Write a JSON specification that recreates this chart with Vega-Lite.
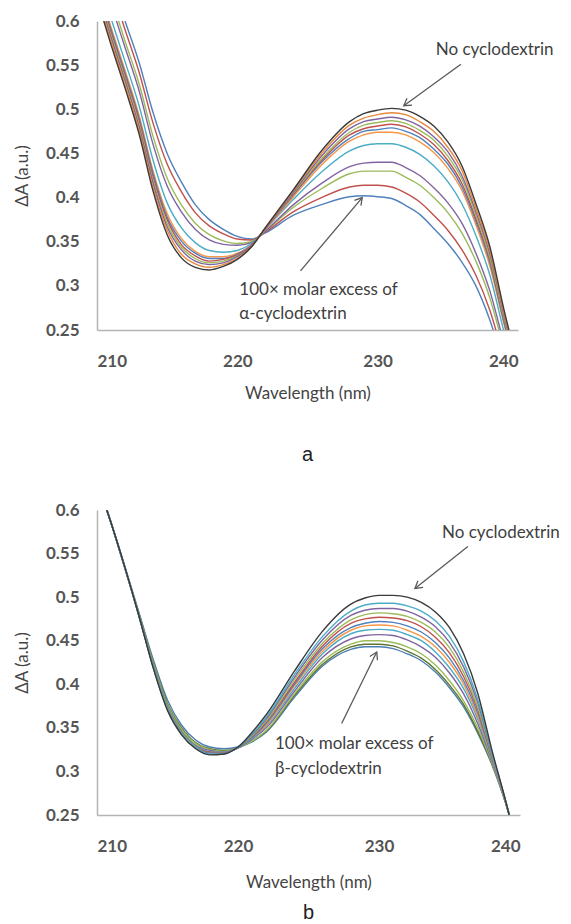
{
  "$schema": "https://vega.github.io/schema/vega-lite/v6.json",
  "padding": {"left": 13, "top": 12, "right": 5, "bottom": 0},
  "spacing": 36,
  "background": "white",
  "datasets": {
    "ta": [
      {"s":"s1","w":210,"v":0.700},{"s":"s1","w":211,"v":0.650},{"s":"s1","w":212,"v":0.600},{"s":"s1","w":213,"v":0.553},{"s":"s1","w":214,"v":0.496},{"s":"s1","w":215,"v":0.450},{"s":"s1","w":216,"v":0.418},{"s":"s1","w":217,"v":0.392},{"s":"s1","w":218,"v":0.375},{"s":"s1","w":219,"v":0.364},{"s":"s1","w":220,"v":0.356},{"s":"s1","w":221,"v":0.353},{"s":"s1","w":222,"v":0.360},{"s":"s1","w":224,"v":0.380},{"s":"s1","w":226,"v":0.392},{"s":"s1","w":228,"v":0.401},{"s":"s1","w":229,"v":0.402},{"s":"s1","w":230,"v":0.401},{"s":"s1","w":231,"v":0.399},{"s":"s1","w":232,"v":0.391},{"s":"s1","w":233,"v":0.381},{"s":"s1","w":234,"v":0.365},{"s":"s1","w":235,"v":0.348},{"s":"s1","w":236,"v":0.327},{"s":"s1","w":237,"v":0.300},{"s":"s1","w":238,"v":0.261},{"s":"s1","w":239,"v":0.210},{"s":"s1","w":240,"v":0.160},
      {"s":"s2","w":210,"v":0.690},{"s":"s2","w":211,"v":0.640},{"s":"s2","w":212,"v":0.590},{"s":"s2","w":213,"v":0.542},{"s":"s2","w":214,"v":0.484},{"s":"s2","w":215,"v":0.438},{"s":"s2","w":216,"v":0.407},{"s":"s2","w":217,"v":0.383},{"s":"s2","w":218,"v":0.368},{"s":"s2","w":219,"v":0.359},{"s":"s2","w":220,"v":0.353},{"s":"s2","w":221,"v":0.352},{"s":"s2","w":222,"v":0.361},{"s":"s2","w":224,"v":0.384},{"s":"s2","w":226,"v":0.400},{"s":"s2","w":228,"v":0.412},{"s":"s2","w":229,"v":0.414},{"s":"s2","w":230,"v":0.414},{"s":"s2","w":231,"v":0.412},{"s":"s2","w":232,"v":0.405},{"s":"s2","w":233,"v":0.395},{"s":"s2","w":234,"v":0.380},{"s":"s2","w":235,"v":0.363},{"s":"s2","w":236,"v":0.341},{"s":"s2","w":237,"v":0.312},{"s":"s2","w":238,"v":0.272},{"s":"s2","w":239,"v":0.218},{"s":"s2","w":240,"v":0.167},
      {"s":"s3","w":210,"v":0.678},{"s":"s3","w":211,"v":0.627},{"s":"s3","w":212,"v":0.577},{"s":"s3","w":213,"v":0.529},{"s":"s3","w":214,"v":0.469},{"s":"s3","w":215,"v":0.422},{"s":"s3","w":216,"v":0.392},{"s":"s3","w":217,"v":0.371},{"s":"s3","w":218,"v":0.358},{"s":"s3","w":219,"v":0.351},{"s":"s3","w":220,"v":0.348},{"s":"s3","w":221,"v":0.350},{"s":"s3","w":222,"v":0.362},{"s":"s3","w":224,"v":0.389},{"s":"s3","w":226,"v":0.410},{"s":"s3","w":228,"v":0.427},{"s":"s3","w":229,"v":0.430},{"s":"s3","w":230,"v":0.430},{"s":"s3","w":231,"v":0.430},{"s":"s3","w":232,"v":0.423},{"s":"s3","w":233,"v":0.414},{"s":"s3","w":234,"v":0.400},{"s":"s3","w":235,"v":0.383},{"s":"s3","w":236,"v":0.360},{"s":"s3","w":237,"v":0.328},{"s":"s3","w":238,"v":0.286},{"s":"s3","w":239,"v":0.229},{"s":"s3","w":240,"v":0.175},
      {"s":"s4","w":210,"v":0.670},{"s":"s4","w":211,"v":0.619},{"s":"s4","w":212,"v":0.570},{"s":"s4","w":213,"v":0.521},{"s":"s4","w":214,"v":0.460},{"s":"s4","w":215,"v":0.413},{"s":"s4","w":216,"v":0.384},{"s":"s4","w":217,"v":0.364},{"s":"s4","w":218,"v":0.352},{"s":"s4","w":219,"v":0.347},{"s":"s4","w":220,"v":0.346},{"s":"s4","w":221,"v":0.349},{"s":"s4","w":222,"v":0.362},{"s":"s4","w":224,"v":0.392},{"s":"s4","w":226,"v":0.416},{"s":"s4","w":228,"v":0.435},{"s":"s4","w":229,"v":0.439},{"s":"s4","w":230,"v":0.440},{"s":"s4","w":231,"v":0.440},{"s":"s4","w":232,"v":0.434},{"s":"s4","w":233,"v":0.425},{"s":"s4","w":234,"v":0.411},{"s":"s4","w":235,"v":0.394},{"s":"s4","w":236,"v":0.371},{"s":"s4","w":237,"v":0.337},{"s":"s4","w":238,"v":0.294},{"s":"s4","w":239,"v":0.235},{"s":"s4","w":240,"v":0.180},
      {"s":"s5","w":210,"v":0.654},{"s":"s5","w":211,"v":0.603},{"s":"s5","w":212,"v":0.554},{"s":"s5","w":213,"v":0.504},{"s":"s5","w":214,"v":0.442},{"s":"s5","w":215,"v":0.394},{"s":"s5","w":216,"v":0.366},{"s":"s5","w":217,"v":0.349},{"s":"s5","w":218,"v":0.340},{"s":"s5","w":219,"v":0.338},{"s":"s5","w":220,"v":0.340},{"s":"s5","w":221,"v":0.348},{"s":"s5","w":222,"v":0.364},{"s":"s5","w":224,"v":0.398},{"s":"s5","w":226,"v":0.429},{"s":"s5","w":228,"v":0.453},{"s":"s5","w":229,"v":0.459},{"s":"s5","w":230,"v":0.461},{"s":"s5","w":231,"v":0.461},{"s":"s5","w":232,"v":0.457},{"s":"s5","w":233,"v":0.449},{"s":"s5","w":234,"v":0.436},{"s":"s5","w":235,"v":0.418},{"s":"s5","w":236,"v":0.393},{"s":"s5","w":237,"v":0.357},{"s":"s5","w":238,"v":0.312},{"s":"s5","w":239,"v":0.248},{"s":"s5","w":240,"v":0.191},
      {"s":"s6","w":210,"v":0.645},{"s":"s6","w":211,"v":0.593},{"s":"s6","w":212,"v":0.544},{"s":"s6","w":213,"v":0.493},{"s":"s6","w":214,"v":0.430},{"s":"s6","w":215,"v":0.382},{"s":"s6","w":216,"v":0.354},{"s":"s6","w":217,"v":0.339},{"s":"s6","w":218,"v":0.333},{"s":"s6","w":219,"v":0.333},{"s":"s6","w":220,"v":0.337},{"s":"s6","w":221,"v":0.346},{"s":"s6","w":222,"v":0.364},{"s":"s6","w":224,"v":0.401},{"s":"s6","w":226,"v":0.437},{"s":"s6","w":228,"v":0.464},{"s":"s6","w":229,"v":0.471},{"s":"s6","w":230,"v":0.474},{"s":"s6","w":231,"v":0.474},{"s":"s6","w":232,"v":0.471},{"s":"s6","w":233,"v":0.463},{"s":"s6","w":234,"v":0.451},{"s":"s6","w":235,"v":0.433},{"s":"s6","w":236,"v":0.408},{"s":"s6","w":237,"v":0.369},{"s":"s6","w":238,"v":0.322},{"s":"s6","w":239,"v":0.257},{"s":"s6","w":240,"v":0.197},
      {"s":"s7","w":210,"v":0.642},{"s":"s7","w":211,"v":0.590},{"s":"s7","w":212,"v":0.541},{"s":"s7","w":213,"v":0.490},{"s":"s7","w":214,"v":0.427},{"s":"s7","w":215,"v":0.378},{"s":"s7","w":216,"v":0.351},{"s":"s7","w":217,"v":0.337},{"s":"s7","w":218,"v":0.331},{"s":"s7","w":219,"v":0.331},{"s":"s7","w":220,"v":0.336},{"s":"s7","w":221,"v":0.346},{"s":"s7","w":222,"v":0.365},{"s":"s7","w":224,"v":0.403},{"s":"s7","w":226,"v":0.440},{"s":"s7","w":228,"v":0.467},{"s":"s7","w":229,"v":0.475},{"s":"s7","w":230,"v":0.477},{"s":"s7","w":231,"v":0.479},{"s":"s7","w":232,"v":0.475},{"s":"s7","w":233,"v":0.468},{"s":"s7","w":234,"v":0.455},{"s":"s7","w":235,"v":0.438},{"s":"s7","w":236,"v":0.412},{"s":"s7","w":237,"v":0.373},{"s":"s7","w":238,"v":0.326},{"s":"s7","w":239,"v":0.259},{"s":"s7","w":240,"v":0.199},
      {"s":"s8","w":210,"v":0.639},{"s":"s8","w":211,"v":0.587},{"s":"s8","w":212,"v":0.538},{"s":"s8","w":213,"v":0.487},{"s":"s8","w":214,"v":0.423},{"s":"s8","w":215,"v":0.375},{"s":"s8","w":216,"v":0.347},{"s":"s8","w":217,"v":0.334},{"s":"s8","w":218,"v":0.328},{"s":"s8","w":219,"v":0.330},{"s":"s8","w":220,"v":0.335},{"s":"s8","w":221,"v":0.346},{"s":"s8","w":222,"v":0.365},{"s":"s8","w":224,"v":0.404},{"s":"s8","w":226,"v":0.442},{"s":"s8","w":228,"v":0.471},{"s":"s8","w":229,"v":0.478},{"s":"s8","w":230,"v":0.481},{"s":"s8","w":231,"v":0.483},{"s":"s8","w":232,"v":0.480},{"s":"s8","w":233,"v":0.472},{"s":"s8","w":234,"v":0.460},{"s":"s8","w":235,"v":0.442},{"s":"s8","w":236,"v":0.416},{"s":"s8","w":237,"v":0.376},{"s":"s8","w":238,"v":0.329},{"s":"s8","w":239,"v":0.262},{"s":"s8","w":240,"v":0.201},
      {"s":"s9","w":210,"v":0.636},{"s":"s9","w":211,"v":0.584},{"s":"s9","w":212,"v":0.535},{"s":"s9","w":213,"v":0.483},{"s":"s9","w":214,"v":0.419},{"s":"s9","w":215,"v":0.371},{"s":"s9","w":216,"v":0.344},{"s":"s9","w":217,"v":0.331},{"s":"s9","w":218,"v":0.326},{"s":"s9","w":219,"v":0.328},{"s":"s9","w":220,"v":0.334},{"s":"s9","w":221,"v":0.345},{"s":"s9","w":222,"v":0.365},{"s":"s9","w":224,"v":0.405},{"s":"s9","w":226,"v":0.444},{"s":"s9","w":228,"v":0.474},{"s":"s9","w":229,"v":0.482},{"s":"s9","w":230,"v":0.485},{"s":"s9","w":231,"v":0.487},{"s":"s9","w":232,"v":0.484},{"s":"s9","w":233,"v":0.476},{"s":"s9","w":234,"v":0.465},{"s":"s9","w":235,"v":0.447},{"s":"s9","w":236,"v":0.421},{"s":"s9","w":237,"v":0.380},{"s":"s9","w":238,"v":0.332},{"s":"s9","w":239,"v":0.264},{"s":"s9","w":240,"v":0.203},
      {"s":"s10","w":210,"v":0.633},{"s":"s10","w":211,"v":0.581},{"s":"s10","w":212,"v":0.532},{"s":"s10","w":213,"v":0.480},{"s":"s10","w":214,"v":0.416},{"s":"s10","w":215,"v":0.367},{"s":"s10","w":216,"v":0.341},{"s":"s10","w":217,"v":0.328},{"s":"s10","w":218,"v":0.324},{"s":"s10","w":219,"v":0.326},{"s":"s10","w":220,"v":0.333},{"s":"s10","w":221,"v":0.345},{"s":"s10","w":222,"v":0.365},{"s":"s10","w":224,"v":0.406},{"s":"s10","w":226,"v":0.447},{"s":"s10","w":228,"v":0.478},{"s":"s10","w":229,"v":0.486},{"s":"s10","w":230,"v":0.489},{"s":"s10","w":231,"v":0.491},{"s":"s10","w":232,"v":0.488},{"s":"s10","w":233,"v":0.481},{"s":"s10","w":234,"v":0.469},{"s":"s10","w":235,"v":0.452},{"s":"s10","w":236,"v":0.425},{"s":"s10","w":237,"v":0.384},{"s":"s10","w":238,"v":0.336},{"s":"s10","w":239,"v":0.267},{"s":"s10","w":240,"v":0.205},
      {"s":"s11","w":210,"v":0.629},{"s":"s11","w":211,"v":0.577},{"s":"s11","w":212,"v":0.528},{"s":"s11","w":213,"v":0.476},{"s":"s11","w":214,"v":0.411},{"s":"s11","w":215,"v":0.363},{"s":"s11","w":216,"v":0.336},{"s":"s11","w":217,"v":0.325},{"s":"s11","w":218,"v":0.321},{"s":"s11","w":219,"v":0.324},{"s":"s11","w":220,"v":0.331},{"s":"s11","w":221,"v":0.344},{"s":"s11","w":222,"v":0.366},{"s":"s11","w":224,"v":0.408},{"s":"s11","w":226,"v":0.450},{"s":"s11","w":228,"v":0.482},{"s":"s11","w":229,"v":0.490},{"s":"s11","w":230,"v":0.494},{"s":"s11","w":231,"v":0.496},{"s":"s11","w":232,"v":0.494},{"s":"s11","w":233,"v":0.486},{"s":"s11","w":234,"v":0.475},{"s":"s11","w":235,"v":0.457},{"s":"s11","w":236,"v":0.431},{"s":"s11","w":237,"v":0.388},{"s":"s11","w":238,"v":0.340},{"s":"s11","w":239,"v":0.270},{"s":"s11","w":240,"v":0.208},
      {"s":"s12","w":210,"v":0.625},{"s":"s12","w":211,"v":0.573},{"s":"s12","w":212,"v":0.524},{"s":"s12","w":213,"v":0.472},{"s":"s12","w":214,"v":0.407},{"s":"s12","w":215,"v":0.358},{"s":"s12","w":216,"v":0.332},{"s":"s12","w":217,"v":0.321},{"s":"s12","w":218,"v":0.318},{"s":"s12","w":219,"v":0.322},{"s":"s12","w":220,"v":0.330},{"s":"s12","w":221,"v":0.344},{"s":"s12","w":222,"v":0.366},{"s":"s12","w":224,"v":0.409},{"s":"s12","w":226,"v":0.453},{"s":"s12","w":228,"v":0.486},{"s":"s12","w":229,"v":0.495},{"s":"s12","w":230,"v":0.499},{"s":"s12","w":231,"v":0.501},{"s":"s12","w":232,"v":0.499},{"s":"s12","w":233,"v":0.492},{"s":"s12","w":234,"v":0.481},{"s":"s12","w":235,"v":0.463},{"s":"s12","w":236,"v":0.436},{"s":"s12","w":237,"v":0.393},{"s":"s12","w":238,"v":0.344},{"s":"s12","w":239,"v":0.273},{"s":"s12","w":240,"v":0.210}
    ],
    "tb": [
      {"s":"s1","w":210,"v":0.635},{"s":"s1","w":211,"v":0.586},{"s":"s1","w":212,"v":0.534},{"s":"s1","w":213,"v":0.481},{"s":"s1","w":214,"v":0.428},{"s":"s1","w":215,"v":0.382},{"s":"s1","w":216,"v":0.353},{"s":"s1","w":217,"v":0.336},{"s":"s1","w":218,"v":0.328},{"s":"s1","w":219,"v":0.326},{"s":"s1","w":220,"v":0.328},{"s":"s1","w":221,"v":0.334},{"s":"s1","w":222,"v":0.345},{"s":"s1","w":224,"v":0.385},{"s":"s1","w":226,"v":0.421},{"s":"s1","w":228,"v":0.440},{"s":"s1","w":229,"v":0.443},{"s":"s1","w":230,"v":0.443},{"s":"s1","w":231,"v":0.441},{"s":"s1","w":232,"v":0.435},{"s":"s1","w":233,"v":0.427},{"s":"s1","w":234,"v":0.414},{"s":"s1","w":235,"v":0.396},{"s":"s1","w":236,"v":0.374},{"s":"s1","w":237,"v":0.344},{"s":"s1","w":238,"v":0.308},{"s":"s1","w":239,"v":0.263},{"s":"s1","w":240,"v":0.205},
      {"s":"s2","w":210,"v":0.635},{"s":"s2","w":211,"v":0.585},{"s":"s2","w":212,"v":0.533},{"s":"s2","w":213,"v":0.480},{"s":"s2","w":214,"v":0.425},{"s":"s2","w":215,"v":0.378},{"s":"s2","w":216,"v":0.350},{"s":"s2","w":217,"v":0.333},{"s":"s2","w":218,"v":0.326},{"s":"s2","w":219,"v":0.324},{"s":"s2","w":220,"v":0.327},{"s":"s2","w":221,"v":0.335},{"s":"s2","w":222,"v":0.346},{"s":"s2","w":224,"v":0.387},{"s":"s2","w":226,"v":0.423},{"s":"s2","w":228,"v":0.443},{"s":"s2","w":229,"v":0.446},{"s":"s2","w":230,"v":0.446},{"s":"s2","w":231,"v":0.444},{"s":"s2","w":232,"v":0.438},{"s":"s2","w":233,"v":0.430},{"s":"s2","w":234,"v":0.417},{"s":"s2","w":235,"v":0.399},{"s":"s2","w":236,"v":0.377},{"s":"s2","w":237,"v":0.346},{"s":"s2","w":238,"v":0.309},{"s":"s2","w":239,"v":0.263},{"s":"s2","w":240,"v":0.205},
      {"s":"s3","w":210,"v":0.635},{"s":"s3","w":211,"v":0.585},{"s":"s3","w":212,"v":0.533},{"s":"s3","w":213,"v":0.479},{"s":"s3","w":214,"v":0.424},{"s":"s3","w":215,"v":0.376},{"s":"s3","w":216,"v":0.348},{"s":"s3","w":217,"v":0.332},{"s":"s3","w":218,"v":0.325},{"s":"s3","w":219,"v":0.323},{"s":"s3","w":220,"v":0.327},{"s":"s3","w":221,"v":0.335},{"s":"s3","w":222,"v":0.347},{"s":"s3","w":224,"v":0.389},{"s":"s3","w":226,"v":0.426},{"s":"s3","w":228,"v":0.446},{"s":"s3","w":229,"v":0.450},{"s":"s3","w":230,"v":0.450},{"s":"s3","w":231,"v":0.448},{"s":"s3","w":232,"v":0.443},{"s":"s3","w":233,"v":0.435},{"s":"s3","w":234,"v":0.422},{"s":"s3","w":235,"v":0.404},{"s":"s3","w":236,"v":0.381},{"s":"s3","w":237,"v":0.350},{"s":"s3","w":238,"v":0.310},{"s":"s3","w":239,"v":0.263},{"s":"s3","w":240,"v":0.204},
      {"s":"s4","w":210,"v":0.634},{"s":"s4","w":211,"v":0.585},{"s":"s4","w":212,"v":0.532},{"s":"s4","w":213,"v":0.478},{"s":"s4","w":214,"v":0.422},{"s":"s4","w":215,"v":0.374},{"s":"s4","w":216,"v":0.346},{"s":"s4","w":217,"v":0.330},{"s":"s4","w":218,"v":0.324},{"s":"s4","w":219,"v":0.322},{"s":"s4","w":220,"v":0.327},{"s":"s4","w":221,"v":0.337},{"s":"s4","w":222,"v":0.350},{"s":"s4","w":224,"v":0.392},{"s":"s4","w":226,"v":0.431},{"s":"s4","w":228,"v":0.452},{"s":"s4","w":229,"v":0.456},{"s":"s4","w":230,"v":0.457},{"s":"s4","w":231,"v":0.456},{"s":"s4","w":232,"v":0.451},{"s":"s4","w":233,"v":0.443},{"s":"s4","w":234,"v":0.431},{"s":"s4","w":235,"v":0.413},{"s":"s4","w":236,"v":0.389},{"s":"s4","w":237,"v":0.355},{"s":"s4","w":238,"v":0.312},{"s":"s4","w":239,"v":0.263},{"s":"s4","w":240,"v":0.204},
      {"s":"s5","w":210,"v":0.634},{"s":"s5","w":211,"v":0.585},{"s":"s5","w":212,"v":0.532},{"s":"s5","w":213,"v":0.478},{"s":"s5","w":214,"v":0.421},{"s":"s5","w":215,"v":0.373},{"s":"s5","w":216,"v":0.345},{"s":"s5","w":217,"v":0.329},{"s":"s5","w":218,"v":0.323},{"s":"s5","w":219,"v":0.322},{"s":"s5","w":220,"v":0.327},{"s":"s5","w":221,"v":0.338},{"s":"s5","w":222,"v":0.352},{"s":"s5","w":224,"v":0.395},{"s":"s5","w":226,"v":0.435},{"s":"s5","w":228,"v":0.458},{"s":"s5","w":229,"v":0.462},{"s":"s5","w":230,"v":0.463},{"s":"s5","w":231,"v":0.462},{"s":"s5","w":232,"v":0.457},{"s":"s5","w":233,"v":0.450},{"s":"s5","w":234,"v":0.437},{"s":"s5","w":235,"v":0.419},{"s":"s5","w":236,"v":0.395},{"s":"s5","w":237,"v":0.360},{"s":"s5","w":238,"v":0.314},{"s":"s5","w":239,"v":0.264},{"s":"s5","w":240,"v":0.203},
      {"s":"s6","w":210,"v":0.634},{"s":"s6","w":211,"v":0.585},{"s":"s6","w":212,"v":0.532},{"s":"s6","w":213,"v":0.478},{"s":"s6","w":214,"v":0.421},{"s":"s6","w":215,"v":0.373},{"s":"s6","w":216,"v":0.345},{"s":"s6","w":217,"v":0.329},{"s":"s6","w":218,"v":0.322},{"s":"s6","w":219,"v":0.322},{"s":"s6","w":220,"v":0.327},{"s":"s6","w":221,"v":0.339},{"s":"s6","w":222,"v":0.353},{"s":"s6","w":224,"v":0.398},{"s":"s6","w":226,"v":0.438},{"s":"s6","w":228,"v":0.462},{"s":"s6","w":229,"v":0.467},{"s":"s6","w":230,"v":0.468},{"s":"s6","w":231,"v":0.467},{"s":"s6","w":232,"v":0.462},{"s":"s6","w":233,"v":0.455},{"s":"s6","w":234,"v":0.443},{"s":"s6","w":235,"v":0.425},{"s":"s6","w":236,"v":0.400},{"s":"s6","w":237,"v":0.363},{"s":"s6","w":238,"v":0.315},{"s":"s6","w":239,"v":0.264},{"s":"s6","w":240,"v":0.203},
      {"s":"s7","w":210,"v":0.634},{"s":"s7","w":211,"v":0.585},{"s":"s7","w":212,"v":0.532},{"s":"s7","w":213,"v":0.478},{"s":"s7","w":214,"v":0.421},{"s":"s7","w":215,"v":0.373},{"s":"s7","w":216,"v":0.345},{"s":"s7","w":217,"v":0.329},{"s":"s7","w":218,"v":0.322},{"s":"s7","w":219,"v":0.322},{"s":"s7","w":220,"v":0.327},{"s":"s7","w":221,"v":0.339},{"s":"s7","w":222,"v":0.355},{"s":"s7","w":224,"v":0.400},{"s":"s7","w":226,"v":0.441},{"s":"s7","w":228,"v":0.465},{"s":"s7","w":229,"v":0.470},{"s":"s7","w":230,"v":0.472},{"s":"s7","w":231,"v":0.471},{"s":"s7","w":232,"v":0.467},{"s":"s7","w":233,"v":0.460},{"s":"s7","w":234,"v":0.448},{"s":"s7","w":235,"v":0.430},{"s":"s7","w":236,"v":0.404},{"s":"s7","w":237,"v":0.367},{"s":"s7","w":238,"v":0.316},{"s":"s7","w":239,"v":0.264},{"s":"s7","w":240,"v":0.203},
      {"s":"s8","w":210,"v":0.633},{"s":"s8","w":211,"v":0.585},{"s":"s8","w":212,"v":0.533},{"s":"s8","w":213,"v":0.477},{"s":"s8","w":214,"v":0.420},{"s":"s8","w":215,"v":0.372},{"s":"s8","w":216,"v":0.344},{"s":"s8","w":217,"v":0.328},{"s":"s8","w":218,"v":0.322},{"s":"s8","w":219,"v":0.321},{"s":"s8","w":220,"v":0.328},{"s":"s8","w":221,"v":0.340},{"s":"s8","w":222,"v":0.357},{"s":"s8","w":224,"v":0.402},{"s":"s8","w":226,"v":0.444},{"s":"s8","w":228,"v":0.470},{"s":"s8","w":229,"v":0.475},{"s":"s8","w":230,"v":0.477},{"s":"s8","w":231,"v":0.476},{"s":"s8","w":232,"v":0.473},{"s":"s8","w":233,"v":0.466},{"s":"s8","w":234,"v":0.454},{"s":"s8","w":235,"v":0.436},{"s":"s8","w":236,"v":0.409},{"s":"s8","w":237,"v":0.371},{"s":"s8","w":238,"v":0.318},{"s":"s8","w":239,"v":0.264},{"s":"s8","w":240,"v":0.202},
      {"s":"s9","w":210,"v":0.633},{"s":"s9","w":211,"v":0.585},{"s":"s9","w":212,"v":0.533},{"s":"s9","w":213,"v":0.477},{"s":"s9","w":214,"v":0.420},{"s":"s9","w":215,"v":0.372},{"s":"s9","w":216,"v":0.344},{"s":"s9","w":217,"v":0.328},{"s":"s9","w":218,"v":0.321},{"s":"s9","w":219,"v":0.321},{"s":"s9","w":220,"v":0.328},{"s":"s9","w":221,"v":0.341},{"s":"s9","w":222,"v":0.358},{"s":"s9","w":224,"v":0.405},{"s":"s9","w":226,"v":0.447},{"s":"s9","w":228,"v":0.474},{"s":"s9","w":229,"v":0.480},{"s":"s9","w":230,"v":0.482},{"s":"s9","w":231,"v":0.481},{"s":"s9","w":232,"v":0.478},{"s":"s9","w":233,"v":0.471},{"s":"s9","w":234,"v":0.460},{"s":"s9","w":235,"v":0.442},{"s":"s9","w":236,"v":0.414},{"s":"s9","w":237,"v":0.374},{"s":"s9","w":238,"v":0.319},{"s":"s9","w":239,"v":0.264},{"s":"s9","w":240,"v":0.202},
      {"s":"s10","w":210,"v":0.633},{"s":"s10","w":211,"v":0.585},{"s":"s10","w":212,"v":0.533},{"s":"s10","w":213,"v":0.477},{"s":"s10","w":214,"v":0.419},{"s":"s10","w":215,"v":0.371},{"s":"s10","w":216,"v":0.343},{"s":"s10","w":217,"v":0.327},{"s":"s10","w":218,"v":0.321},{"s":"s10","w":219,"v":0.321},{"s":"s10","w":220,"v":0.328},{"s":"s10","w":221,"v":0.342},{"s":"s10","w":222,"v":0.360},{"s":"s10","w":224,"v":0.408},{"s":"s10","w":226,"v":0.451},{"s":"s10","w":228,"v":0.479},{"s":"s10","w":229,"v":0.485},{"s":"s10","w":230,"v":0.487},{"s":"s10","w":231,"v":0.487},{"s":"s10","w":232,"v":0.484},{"s":"s10","w":233,"v":0.477},{"s":"s10","w":234,"v":0.466},{"s":"s10","w":235,"v":0.448},{"s":"s10","w":236,"v":0.420},{"s":"s10","w":237,"v":0.379},{"s":"s10","w":238,"v":0.321},{"s":"s10","w":239,"v":0.265},{"s":"s10","w":240,"v":0.201},
      {"s":"s11","w":210,"v":0.632},{"s":"s11","w":211,"v":0.585},{"s":"s11","w":212,"v":0.533},{"s":"s11","w":213,"v":0.477},{"s":"s11","w":214,"v":0.419},{"s":"s11","w":215,"v":0.371},{"s":"s11","w":216,"v":0.343},{"s":"s11","w":217,"v":0.327},{"s":"s11","w":218,"v":0.320},{"s":"s11","w":219,"v":0.320},{"s":"s11","w":220,"v":0.328},{"s":"s11","w":221,"v":0.343},{"s":"s11","w":222,"v":0.362},{"s":"s11","w":224,"v":0.411},{"s":"s11","w":226,"v":0.455},{"s":"s11","w":228,"v":0.484},{"s":"s11","w":229,"v":0.491},{"s":"s11","w":230,"v":0.493},{"s":"s11","w":231,"v":0.493},{"s":"s11","w":232,"v":0.490},{"s":"s11","w":233,"v":0.484},{"s":"s11","w":234,"v":0.473},{"s":"s11","w":235,"v":0.455},{"s":"s11","w":236,"v":0.426},{"s":"s11","w":237,"v":0.383},{"s":"s11","w":238,"v":0.322},{"s":"s11","w":239,"v":0.265},{"s":"s11","w":240,"v":0.201},
      {"s":"s12","w":210,"v":0.632},{"s":"s12","w":211,"v":0.585},{"s":"s12","w":212,"v":0.533},{"s":"s12","w":213,"v":0.477},{"s":"s12","w":214,"v":0.418},{"s":"s12","w":215,"v":0.370},{"s":"s12","w":216,"v":0.342},{"s":"s12","w":217,"v":0.326},{"s":"s12","w":218,"v":0.319},{"s":"s12","w":219,"v":0.320},{"s":"s12","w":220,"v":0.328},{"s":"s12","w":221,"v":0.345},{"s":"s12","w":222,"v":0.365},{"s":"s12","w":224,"v":0.415},{"s":"s12","w":226,"v":0.461},{"s":"s12","w":228,"v":0.492},{"s":"s12","w":229,"v":0.499},{"s":"s12","w":230,"v":0.502},{"s":"s12","w":231,"v":0.502},{"s":"s12","w":232,"v":0.500},{"s":"s12","w":233,"v":0.494},{"s":"s12","w":234,"v":0.483},{"s":"s12","w":235,"v":0.465},{"s":"s12","w":236,"v":0.435},{"s":"s12","w":237,"v":0.390},{"s":"s12","w":238,"v":0.325},{"s":"s12","w":239,"v":0.265},{"s":"s12","w":240,"v":0.200}
    ]
  },
  "resolve": {"scale": {"color": "independent"}},
  "vconcat": [
    {
      "width": 421,
      "height": 309,
      "title": {"text": "a", "orient": "bottom", "offset": 44},
      "encoding": {
        "x": {"field": "w", "type": "quantitative", "scale": {"domain": [210, 240], "nice": false, "zero": false},
              "axis": {"values": [210, 220, 230, 240], "title": "Wavelength (nm)", "labelPadding": 23, "titlePadding": 16}},
        "y": {"field": "v", "type": "quantitative", "scale": {"domain": [0.25, 0.6], "nice": false, "zero": false},
              "axis": {"values": [0.25, 0.3, 0.35, 0.4, 0.45, 0.5, 0.55, 0.6], "format": ".2~f", "title": "ΔA (a.u.)"}}
      },
      "layer": [
        {
          "data": {"name": "ta"},
          "mark": {"type": "line", "clip": true, "strokeWidth": 1.4, "interpolate": "monotone"},
          "encoding": {
            "color": {"field": "s", "type": "nominal", "legend": null,
              "scale": {"domain": ["s1","s2","s3","s4","s5","s6","s7","s8","s9","s10","s11","s12"],
                        "range": ["#4F81BD","#C0504D","#9BBB59","#8064A2","#4BACC6","#F79646","#4F81BD","#C0504D","#9BBB59","#8064A2","#E8883A","#3A3A3A"]}}
          }
        },
        {
          "data": {"values": [{"w": 235.93, "v": 0.551, "w2": 231.86, "v2": 0.504}, {"w": 224.5, "v": 0.317, "w2": 228.9, "v2": 0.400}]},
          "mark": {"type": "rule", "color": "#595959", "strokeWidth": 1.3},
          "encoding": {"x2": {"field": "w2"}, "y2": {"field": "v2"}}
        },
        {
          "data": {"values": [{"w": 231.86, "v": 0.504}]},
          "mark": {"type": "point", "shape": "M-0.6,1L0,0L0.6,1", "filled": false, "size": 200, "color": "#595959", "strokeWidth": 1.3, "angle": 234, "opacity": 1},
          "encoding": {}
        },
        {
          "data": {"values": [{"w": 228.9, "v": 0.400}]},
          "mark": {"type": "point", "shape": "M-0.6,1L0,0L0.6,1", "filled": false, "size": 200, "color": "#595959", "strokeWidth": 1.3, "angle": 40, "opacity": 1},
          "encoding": {}
        },
        {
          "data": {"values": [{"w": 234.14, "v": 0.5615, "t": "No cyclodextrin"}, {"w": 220.14, "v": 0.2896, "t": "100× molar excess of\nα-cyclodextrin"}]},
          "mark": {"type": "text", "align": "left", "baseline": "alphabetic", "font": "Lato", "fontSize": 17, "color": "#404040", "lineBreak": "\n", "lineHeight": 24},
          "encoding": {"text": {"field": "t"}}
        }
      ]
    },
    {
      "width": 423,
      "height": 305,
      "title": {"text": "b", "orient": "bottom", "offset": 13},
      "encoding": {
        "x": {"field": "w", "type": "quantitative", "scale": {"domain": [210, 240], "nice": false, "zero": false},
              "axis": {"values": [210, 220, 230, 240], "title": "Wavelength (nm)", "labelPadding": 23, "titlePadding": 20}},
        "y": {"field": "v", "type": "quantitative", "scale": {"domain": [0.25, 0.6], "nice": false, "zero": false},
              "axis": {"values": [0.25, 0.3, 0.35, 0.4, 0.45, 0.5, 0.55, 0.6], "format": ".2~f", "title": "ΔA (a.u.)"}}
      },
      "layer": [
        {
          "data": {"name": "tb"},
          "mark": {"type": "line", "clip": true, "strokeWidth": 1.4, "interpolate": "monotone"},
          "encoding": {
            "color": {"field": "s", "type": "nominal", "legend": null,
              "scale": {"domain": ["s1","s2","s3","s4","s5","s6","s7","s8","s9","s10","s11","s12"],
                        "range": ["#4A7FB5","#5F7530","#9BBB59","#8064A2","#4BACC6","#F79646","#4F81BD","#C0504D","#9BBB59","#8064A2","#4BACC6","#3A3A3A"]}}
          }
        },
        {
          "data": {"values": [{"w": 236.3, "v": 0.558, "w2": 232.55, "v2": 0.510}, {"w": 227.35, "v": 0.355, "w2": 229.84, "v2": 0.437}]},
          "mark": {"type": "rule", "color": "#595959", "strokeWidth": 1.3},
          "encoding": {"x2": {"field": "w2"}, "y2": {"field": "v2"}}
        },
        {
          "data": {"values": [{"w": 232.55, "v": 0.510}]},
          "mark": {"type": "point", "shape": "M-0.6,1L0,0L0.6,1", "filled": false, "size": 200, "color": "#595959", "strokeWidth": 1.3, "angle": 232, "opacity": 1},
          "encoding": {}
        },
        {
          "data": {"values": [{"w": 229.84, "v": 0.437}]},
          "mark": {"type": "point", "shape": "M-0.6,1L0,0L0.6,1", "filled": false, "size": 200, "color": "#595959", "strokeWidth": 1.3, "angle": 26, "opacity": 1},
          "encoding": {}
        },
        {
          "data": {"values": [{"w": 234.47, "v": 0.5679, "t": "No cyclodextrin"}, {"w": 222.62, "v": 0.3256, "t": "100× molar excess of\nβ-cyclodextrin"}]},
          "mark": {"type": "text", "align": "left", "baseline": "alphabetic", "font": "Lato", "fontSize": 17, "color": "#404040", "lineBreak": "\n", "lineHeight": 25},
          "encoding": {"text": {"field": "t"}}
        }
      ]
    }
  ],
  "config": {
    "view": {"stroke": null},
    "font": "Lato",
    "axis": {
      "grid": false, "ticks": false, "domainColor": "#b3b3b3", "domainWidth": 1.5,
      "labelFont": "Lato", "labelFontSize": 17, "labelFontWeight": "bold", "labelColor": "#555555",
      "titleFont": "Lato", "titleFontSize": 17, "titleFontWeight": "normal", "titleColor": "#444444"
    },
    "axisY": {"labelPadding": 18, "titlePadding": 14},
    "title": {"font": "Liberation Sans", "fontSize": 20, "fontWeight": "normal", "color": "#222222"}
  }
}
